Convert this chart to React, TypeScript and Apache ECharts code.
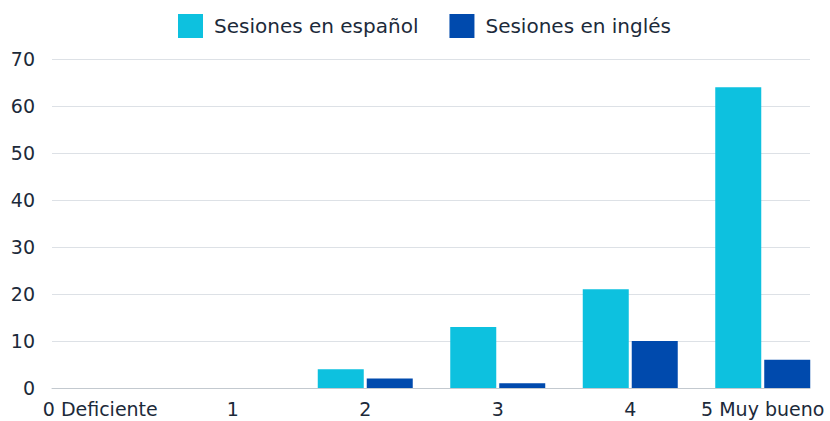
import React, { useEffect, useRef } from "react";
import * as echarts from "echarts";

const categories = ["0 Deficiente", "1", "2", "3", "4", "5 Muy bueno"];
const spanishSessions = [0, 0, 4, 13, 21, 64];
const englishSessions = [0, 0, 2, 1, 10, 6];
const seriesNames = ["Sesiones en español", "Sesiones en inglés"];

const FONT = "'DejaVu Sans', sans-serif";
const TEXT = "#1c2a3a";

export default function App() {
  const ref = useRef<HTMLDivElement>(null);
  useEffect(() => {
    document.body.style.margin = "0";
    const chart = echarts.init(ref.current!, null, { renderer: "svg" });
    chart.setOption({
      animation: false,
      textStyle: { fontFamily: FONT },
      legend: {
        top: 14,
        left: 178,
        padding: 0,
        itemWidth: 25,
        itemHeight: 24,
        itemGap: 31,
        icon: "rect",
        textStyle: { fontSize: 20, color: TEXT, fontFamily: FONT, padding: [0, 0, 0, 6] },
        data: seriesNames,
      },
      grid: [
        { left: 34, right: 1, top: 59, bottom: 33 },
        { left: 52, right: 20, top: 59, bottom: 33 },
      ],
      xAxis: [
        {
          type: "category",
          gridIndex: 0,
          data: categories,
          axisLine: { show: false },
          axisTick: { show: false },
          axisLabel: { interval: 0, fontSize: 19, color: TEXT, margin: 11, fontFamily: FONT },
        },
        {
          type: "value",
          gridIndex: 1,
          min: 0,
          max: 1,
          axisLine: { show: true, lineStyle: { color: "#c3c9cf", width: 1 } },
          axisTick: { show: false },
          axisLabel: { show: false },
          splitLine: { show: false },
        },
      ],
      yAxis: [
        {
          type: "value",
          gridIndex: 0,
          min: 0,
          max: 70,
          interval: 10,
          axisLine: { show: false },
          axisTick: { show: false },
          splitLine: { show: false },
          axisLabel: { fontSize: 19, color: TEXT, margin: -1, fontFamily: FONT },
        },
        {
          type: "value",
          gridIndex: 1,
          min: 0,
          max: 70,
          interval: 10,
          axisLine: { show: false },
          axisTick: { show: false },
          axisLabel: { show: false },
          splitLine: { show: true, lineStyle: { color: "#dde1e6", width: 1 } },
        },
      ],
      series: [
        {
          name: seriesNames[0],
          type: "bar",
          xAxisIndex: 0,
          yAxisIndex: 0,
          data: spanishSessions,
          barWidth: 46,
          barGap: "6.5%",
          itemStyle: { color: "#0dc1df" },
        },
        {
          name: seriesNames[1],
          type: "bar",
          xAxisIndex: 0,
          yAxisIndex: 0,
          data: englishSessions,
          barWidth: 46,
          barGap: "6.5%",
          itemStyle: { color: "#004aad" },
        },
      ],
    });
    return () => chart.dispose();
  }, []);
  return <div ref={ref} style={{ width: 830, height: 421 }} />;
}
